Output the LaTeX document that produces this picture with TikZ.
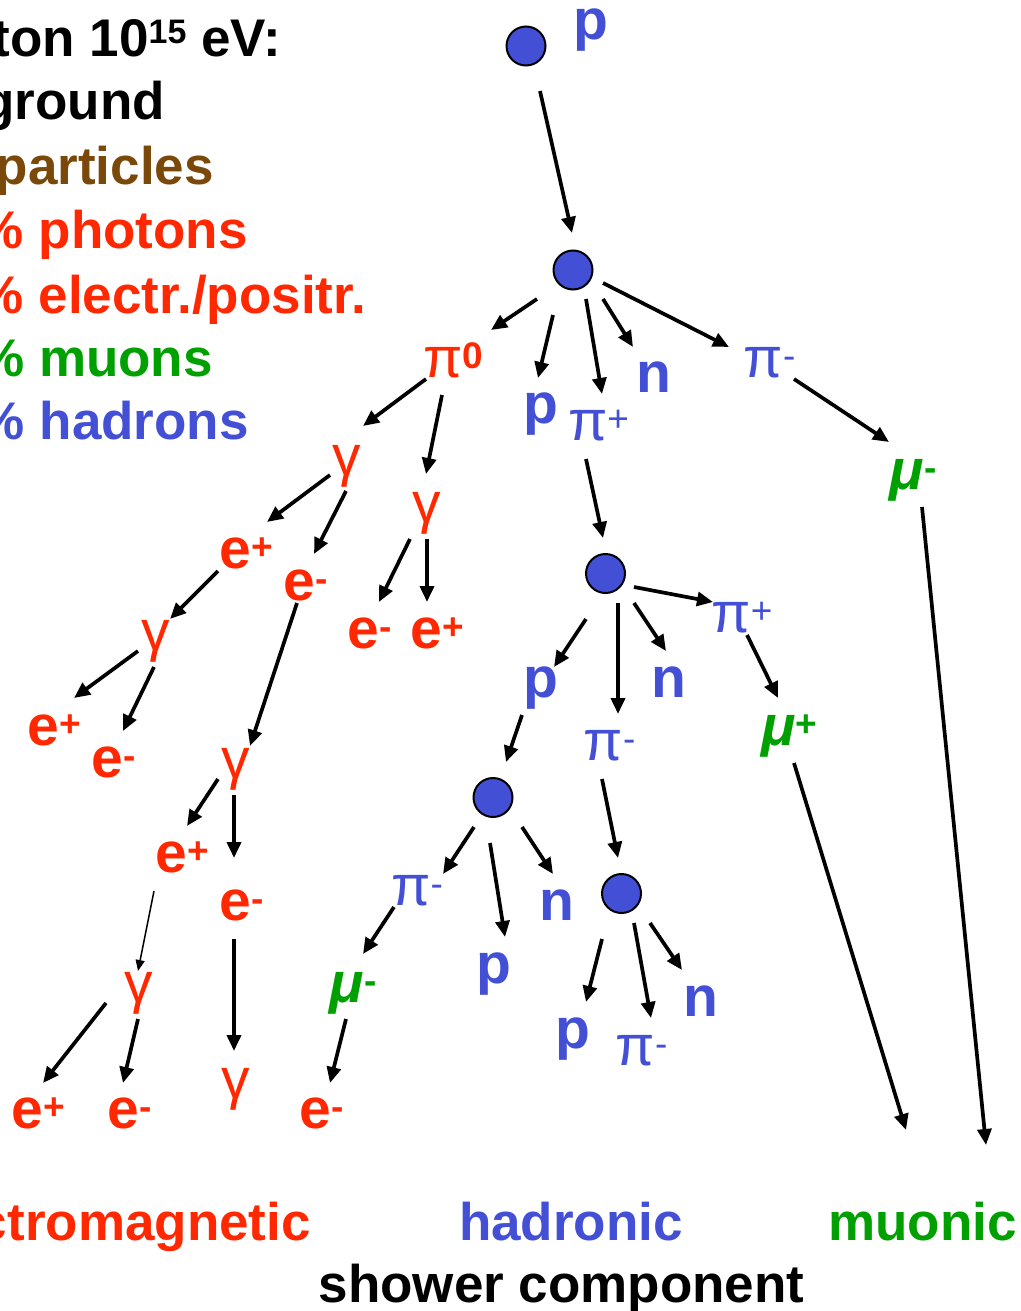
\documentclass[tikz,border=0pt]{standalone}
\usepackage{fontspec}
\setmainfont{Liberation Sans}
\usetikzlibrary{arrows.meta,calc}
\definecolor{er}{RGB}{255,40,0}
\definecolor{hb}{RGB}{67,80,214}
\definecolor{mg}{RGB}{0,160,0}
\definecolor{br}{RGB}{122,72,8}
\newcommand\spx[1]{\raisebox{9pt}{\fontsize{37}{37}\selectfont #1}}
\newcommand\gr[1]{{\mdseries #1}}
\begin{document}
\begin{tikzpicture}[x=1pt,y=-1pt,
  vtx/.style={circle, draw=black, line width=2pt, fill=hb, minimum size=39pt, inner sep=0pt},
  lab/.style={inner sep=0pt, anchor=base, font=\fontsize{57}{60}\selectfont\bfseries},
  big/.style={inner sep=0pt, font=\fontsize{53}{60}\selectfont\bfseries},
  arr/.style={line width=3.7pt, -{Triangle[length=16pt,width=14pt]}},
  thinarr/.style={line width=1.5pt, -{Triangle[length=11pt,width=9pt]}},
  em/.style={lab, text=er}, ha/.style={lab, text=hb}, mu/.style={lab, text=mg}]
\useasboundingbox (0,0) rectangle (1020,1311);
\fill[white] (0,0) rectangle (1020,1311);
\clip (0,0) rectangle (1020,1311);

% header texts
\node[big, anchor=base east] (t1) at (281,57) {ton 10\raisebox{13pt}{\fontsize{34}{34}\selectfont 15} eV:};
\node[big, anchor=base east] (t2) at (165,120) {ground};
\node[big, anchor=base east, text=br] (t3) at (214,184) {particles};
\node[big, anchor=base east, text=er] (t4) at (248,248) {\% photons};
\node[big, anchor=base east, text=er] (t5) at (366,313) {\% electr./positr.};
\node[big, anchor=base east, text=mg] (t6) at (213,376) {\% muons};
\node[big, anchor=base east, text=hb] (t7) at (249,439) {\% hadrons};

% bottom texts
\node[big, anchor=base east, text=er] (b1) at (311,1240) {ctromagnetic};
\node[big, anchor=base, text=hb] (b2) at (571,1240) {hadronic};
\node[big, anchor=base, text=mg] (b3) at (922.5,1240) {muonic};
\node[big, anchor=base] (b4) at (561.5,1302) {shower component};

% interaction vertices
\node[vtx] (c1) at (526,46) {};
\node[vtx] (c2) at (573,270) {};
\node[vtx] (c3) at (605.5,573.5) {};
\node[vtx] (c4) at (493,797.5) {};
\node[vtx] (c5) at (621.5,893.5) {};

% particle labels
\node[ha] (p0) at (591,40) {p};
\node[em] (pi0) at (453,377) {\gr{π}\spx{0}};
\node[ha] (p1) at (541,423) {p};
\node[ha] (pip1) at (598.5,440) {\gr{π\spx{+}}};
\node[ha] (n1) at (653.5,392) {n};
\node[ha] (pim1) at (769.5,377) {\gr{π\spx{-}}};
\node[mu] (mum1) at (913,489) {\textit{μ}\spx{-}};
\node[em] (g1) at (347,475) {\gr{γ}};
\node[em] (g2) at (427,522) {\gr{γ}};
\node[em] (epa) at (246,568) {e\spx{+}};
\node[em] (ema) at (305.5,600) {e\spx{-}};
\node[em] (emb) at (369.5,648) {e\spx{-}};
\node[em] (epb) at (437.5,648) {e\spx{+}};
\node[em] (g3) at (155.5,650) {\gr{γ}};
\node[em] (epc) at (54,745) {e\spx{+}};
\node[em] (emc) at (113.5,777) {e\spx{-}};
\node[em] (g4) at (235.5,778) {\gr{γ}};
\node[em] (epd) at (182,872) {e\spx{+}};
\node[em] (emd) at (241.5,920) {e\spx{-}};
\node[em] (g5) at (138.5,1002) {\gr{γ}};
\node[em] (epe) at (38,1128) {e\spx{+}};
\node[em] (eme) at (129.5,1128) {e\spx{-}};
\node[em] (g6) at (235.5,1098) {\gr{γ}};
\node[em] (emf) at (321.5,1128) {e\spx{-}};
\node[ha] (p2) at (541,697) {p};
\node[ha] (n2) at (669,697) {n};
\node[ha] (pip2) at (742,632) {\gr{π\spx{+}}};
\node[ha] (pim2) at (609.5,760) {\gr{π\spx{-}}};
\node[mu] (mup) at (789,745) {\textit{μ}\spx{+}};
\node[ha] (pim3) at (417,905) {\gr{π\spx{-}}};
\node[ha] (p3) at (493.5,983) {p};
\node[ha] (n3) at (556.5,920) {n};
\node[mu] (mum2) at (353,1002) {\textit{μ}\spx{-}};
\node[ha] (p4) at (573,1048) {p};
\node[ha] (pim4) at (641.5,1065) {\gr{π\spx{-}}};
\node[ha] (n4) at (700.5,1016) {n};

\coordinate (mupend) at (906,1130);
\coordinate (mumend) at (986,1145);

% connectors
\draw[arr] ($(c1)+(14,45)$) -- ($(c2)+(-1,-37)$);
\draw[arr] ($(c2)+(-36,29)$) -- ($(pi0.base)+(38,-47)$);
\draw[arr] ($(c2)+(-20,45)$) -- ($(p1.base)+(-3,-45)$);
\draw[arr] ($(c2)+(13,29)$) -- ($(pip1.base)+(3.5,-46)$);
\draw[arr] ($(c2)+(30,29)$) -- ($(n1.base)+(-20.5,-45)$);
\draw[arr] ($(c2)+(30,13)$) -- ($(pim1.base)+(-40.5,-30)$);
\draw[arr] ($(pim1.base)+(24.5,2)$) -- ($(mum1.base)+(-24,-47)$);
\draw[arr] ($(mum1.base)+(9,18)$) -- (mumend);
\draw[arr] ($(pi0.base)+(-27,2)$) -- ($(g1.base)+(16,-49)$);
\draw[arr] ($(pi0.base)+(-11,18)$) -- ($(g2.base)+(-1,-48)$);
\draw[arr] ($(g1.base)+(-17,0)$) -- ($(epa.base)+(21,-46)$);
\draw[arr] ($(g1.base)+(-1,16)$) -- ($(ema.base)+(8.5,-46)$);
\draw[arr] ($(g2.base)+(-17,17)$) -- ($(emb.base)+(9.5,-46)$);
\draw[arr] ($(g2.base)+(0,17)$) -- ($(epb.base)+(-10.5,-46)$);
\draw[arr] ($(epa.base)+(-28,3)$) -- ($(g3.base)+(14.5,-31)$);
\draw[arr] ($(g3.base)+(-17.5,1)$) -- ($(epc.base)+(20,-47)$);
\draw[arr] ($(g3.base)+(-1.5,17)$) -- ($(emc.base)+(9.5,-46)$);
\draw[arr] ($(ema.base)+(-8.5,3)$) -- ($(g4.base)+(14.5,-32)$);
\draw[arr] ($(g4.base)+(-17.5,1)$) -- ($(epd.base)+(5,-46)$);
\draw[arr] ($(g4.base)+(-1.5,17)$) -- ($(emd.base)+(-7.5,-62)$);
\draw[thinarr] ($(epd.base)+(-28,19)$) -- ($(g5.base)+(-0.5,-31)$);
\draw[arr] ($(g5.base)+(-32.5,1)$) -- ($(epe.base)+(5,-45)$);
\draw[arr] ($(g5.base)+(-0.5,17)$) -- ($(eme.base)+(-6.5,-45)$);
\draw[arr] ($(emd.base)+(-7.5,19)$) -- ($(g6.base)+(-1.5,-47)$);
\draw[arr] ($(mum2.base)+(-7,17)$) -- ($(emf.base)+(8.5,-45)$);
\draw[arr] ($(pip1.base)+(-12.5,19)$) -- ($(c3)+(-2.5,-35.5)$);
\draw[arr] ($(c3)+(28.5,13.5)$) -- ($(pip2.base)+(-29,-30)$);
\draw[arr] ($(c3)+(28.5,29.5)$) -- ($(n2.base)+(-3,-46)$);
\draw[arr] ($(c3)+(12.5,29.5)$) -- ($(pim2.base)+(8.5,-46)$);
\draw[arr] ($(c3)+(-19.5,45.5)$) -- ($(p2.base)+(13,-30)$);
\draw[arr] ($(pip2.base)+(5,3)$) -- ($(mup.base)+(-11,-47)$);
\draw[arr] ($(mup.base)+(5,18)$) -- (mupend);
\draw[arr] ($(p2.base)+(-19,18)$) -- ($(c4)+(13,-35.5)$);
\draw[arr] ($(pim2.base)+(-7.5,19)$) -- ($(c5)+(-3.5,-35.5)$);
\draw[arr] ($(c4)+(-19,29.5)$) -- ($(pim3.base)+(26,-31)$);
\draw[arr] ($(c4)+(-3,45.5)$) -- ($(p3.base)+(11.5,-46)$);
\draw[arr] ($(c4)+(29,29.5)$) -- ($(n3.base)+(-3.5,-46)$);
\draw[arr] ($(pim3.base)+(-23,2)$) -- ($(mum2.base)+(10,-48)$);
\draw[arr] ($(c5)+(-19.5,45.5)$) -- ($(p4.base)+(13,-46)$);
\draw[arr] ($(c5)+(12.5,29.5)$) -- ($(pim4.base)+(9.5,-47)$);
\draw[arr] ($(c5)+(28.5,29.5)$) -- ($(n4.base)+(-18.5,-46)$);
\end{tikzpicture}
\end{document}
